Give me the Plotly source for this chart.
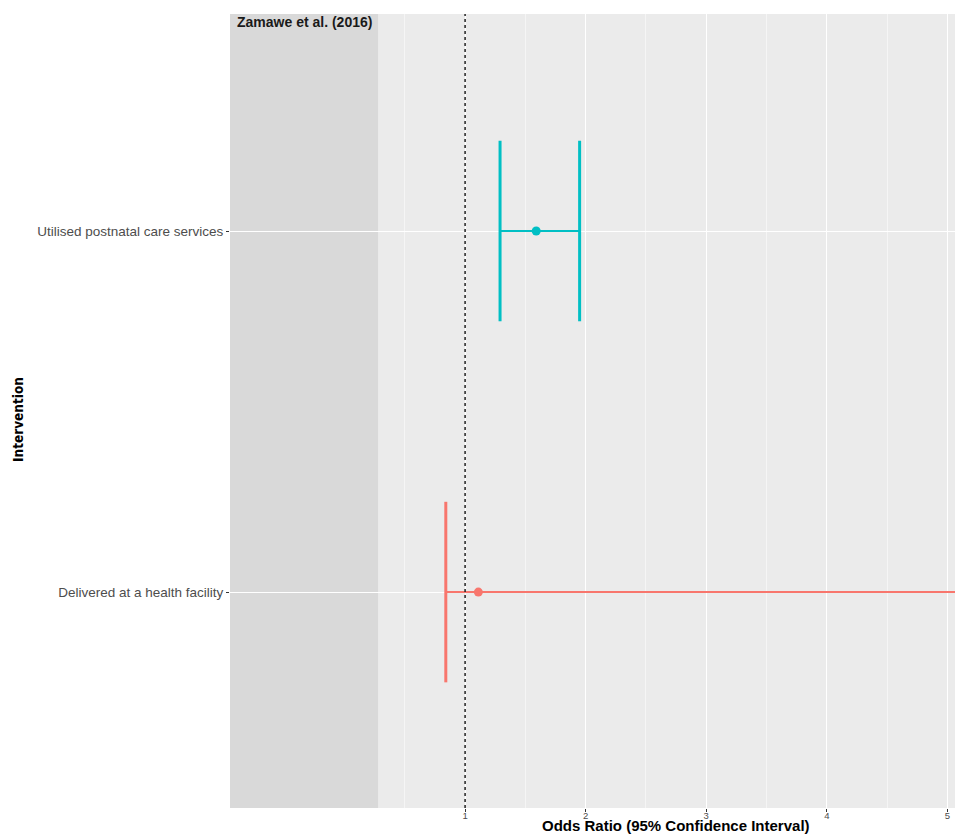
import plotly.graph_objects as go

# Data
interventions = ["Delivered at a health facility", "Utilised postnatal care services"]
odds_ratio = [1.11, 1.59]
ci_lower = [0.84, 1.29]
ci_upper = [6.50, 1.95]
colors = ["#F8766D", "#00BFC4"]
study = "Zamawe et al. (2016)"
x_ticks = [1, 2, 3, 4, 5]
x_minor = [0.5, 1.5, 2.5, 3.5, 4.5]

# page body has an 8px margin; sizes chosen so the panel lands where the reference has it
OFF = 8
W, H = 955, 828
ML, MR, MT, MB = 222, 0, 6, 28
PW, PH = W - ML - MR, H - MT - MB
x_range = [-0.95, 5.13]
y_range = [-0.598, 1.601]
half = 0.25


def px_x(p):
    return (p - OFF - ML) / PW


def px_y(p):
    return 1 - (p - OFF - MT) / PH


fig = go.Figure()
for i, name in enumerate(interventions):
    c = colors[i]
    fig.add_trace(go.Scatter(x=[ci_lower[i], ci_upper[i]], y=[i, i], mode="lines",
                             line=dict(color=c, width=2), showlegend=False, hoverinfo="skip"))
    for v in (ci_lower[i], ci_upper[i]):
        fig.add_trace(go.Scatter(x=[v, v], y=[i - half, i + half], mode="lines",
                                 line=dict(color=c, width=3), showlegend=False, hoverinfo="skip"))
    fig.add_trace(go.Scatter(x=[odds_ratio[i]], y=[i], mode="markers",
                             marker=dict(color=c, size=9, symbol="circle"),
                             showlegend=False, name=name))

fig.add_shape(type="rect", xref="x", yref="paper", x0=x_range[0], x1=0.278, y0=0, y1=1,
              fillcolor="#D9D9D9", line=dict(width=0), layer="between")
fig.add_shape(type="line", xref="x", yref="paper", x0=1, x1=1, y0=0, y1=1,
              line=dict(color="#222222", width=1.5, dash="dot"), layer="above")

fig.add_annotation(text="<b>" + study + "</b>", xref="paper", yref="paper",
                   x=px_x(235), y=px_y(22),
                   xanchor="left", yanchor="middle", showarrow=False,
                   font=dict(family="Liberation Sans, Arial", size=14, color="#1A1A1A"))

fig.add_annotation(text="<b>Odds Ratio (95% Confidence Interval)</b>", xref="paper", yref="paper",
                   x=px_x(676), y=px_y(836),
                   xanchor="center", yanchor="bottom", showarrow=False,
                   font=dict(family="Liberation Sans, Arial", size=15, color="#000000"))

fig.add_annotation(text="<b>Intervention</b>", xref="paper", yref="paper",
                   x=px_x(18), y=px_y(420),
                   xanchor="center", yanchor="middle", showarrow=False, textangle=-90,
                   font=dict(family="Liberation Sans Narrow, DejaVu Sans Condensed, Liberation Sans",
                             size=13.5, color="#000000"))

fig.update_layout(
    width=W, height=H,
    margin=dict(l=ML, r=MR, t=MT, b=MB, pad=0),
    paper_bgcolor="white", plot_bgcolor="#EBEBEB",
    font=dict(family="Liberation Sans, Arial", color="#4D4D4D"),
    xaxis=dict(range=x_range, tickmode="array", tickvals=x_ticks,
               ticktext=[str(v) for v in x_ticks],
               showgrid=True, gridcolor="white", gridwidth=1.4,
               minor=dict(tickmode="array", tickvals=x_minor, showgrid=True,
                          gridcolor="#F5F5F5", gridwidth=0.7, ticks=""),
               zeroline=False, showline=False, ticks="outside", ticklen=3,
               tickcolor="#333333", tickwidth=1, ticklabelstandoff=-4,
               tickfont=dict(size=9.5, color="#4D4D4D")),
    yaxis=dict(range=y_range, tickmode="array", tickvals=[0, 1], ticktext=interventions,
               showgrid=True, gridcolor="white", gridwidth=1.2, zeroline=False,
               showline=False, ticks="outside", ticklen=3, tickcolor="#333333",
               tickfont=dict(size=13.5, color="#4D4D4D")),
)

fig.write_html("out.html")
